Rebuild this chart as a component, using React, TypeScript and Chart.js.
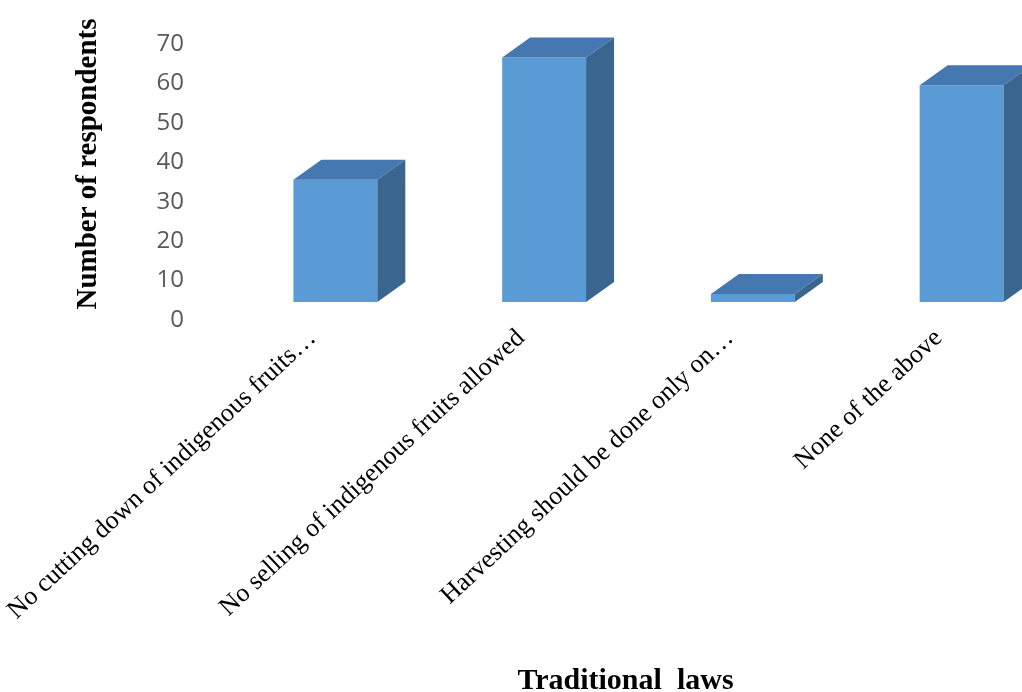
import { useEffect, useRef } from "react";
import { Chart, registerables } from "chart.js";

Chart.register(...registerables);

const categories = [
  "No cutting down of indigenous fruits…",
  "No selling of indigenous fruits allowed",
  "Harvesting should be done only on…",
  "None of the above",
];
const respondents = [31, 62, 2, 55];
const yMin = 0;
const yMax = 70;
const yStep = 10;
const yTitle = "Number of respondents";
const xTitle = "Traditional  laws";

const FRONT = "#5B9BD5";
const TOP = "#4577B0";
const SIDE = "#3A658E";
// columns stand a little behind the axis plane, and have some depth
const RECESS = { x: 23, y: -18 };
const DEPTH = { x: 28, y: -20 };

const SERIF = "'Times New Roman', 'Liberation Serif', serif";

const columns3d = {
  id: "columns3d",
  beforeDatasetsDraw(chart: any) {
    chart.ctx.save();
    chart.ctx.translate(RECESS.x, RECESS.y);
  },
  afterDatasetsDraw(chart: any) {
    const ctx = chart.ctx;
    ctx.restore();
    ctx.save();
    ctx.translate(RECESS.x, RECESS.y);
    chart.getDatasetMeta(0).data.forEach((bar: any) => {
      const { x, y, base, width } = bar.getProps(["x", "y", "base", "width"], true);
      const l = x - width / 2;
      const r = x + width / 2;
      ctx.fillStyle = TOP;
      ctx.beginPath();
      ctx.moveTo(l, y);
      ctx.lineTo(r, y);
      ctx.lineTo(r + DEPTH.x, y + DEPTH.y);
      ctx.lineTo(l + DEPTH.x, y + DEPTH.y);
      ctx.closePath();
      ctx.fill();
      ctx.fillStyle = SIDE;
      ctx.beginPath();
      ctx.moveTo(r, y);
      ctx.lineTo(r + DEPTH.x, y + DEPTH.y);
      ctx.lineTo(r + DEPTH.x, base + DEPTH.y);
      ctx.lineTo(r, base);
      ctx.closePath();
      ctx.fill();
    });
    ctx.restore();
  },
};

const valueAxisTitle = {
  id: "valueAxisTitle",
  afterDraw(chart: any) {
    const { ctx, chartArea } = chart;
    const yScale = chart.scales.y;
    ctx.save();
    ctx.translate(yScale.left + 89, (chartArea.top + chartArea.bottom) / 2 - 18);
    ctx.rotate(-Math.PI / 2);
    ctx.font = `bold 29px ${SERIF}`;
    ctx.fillStyle = "#000";
    ctx.textAlign = "center";
    ctx.textBaseline = "middle";
    ctx.fillText(yTitle, 0, 0);
    ctx.restore();
  },
};

export default function App() {
  const canvasRef = useRef<HTMLCanvasElement>(null);

  useEffect(() => {
    const canvas = canvasRef.current;
    if (!canvas) return;
    const chart = new Chart(canvas, {
      type: "bar",
      data: {
        labels: categories,
        datasets: [
          {
            data: respondents,
            backgroundColor: FRONT,
            borderWidth: 0,
            categoryPercentage: 1,
            barPercentage: 0.402,
            clip: false as any,
          },
        ],
      },
      options: {
        animation: false,
        responsive: false,
        events: [],
        layout: { padding: { top: 44, left: 0, right: 0, bottom: 0 } },
        plugins: {
          legend: { display: false },
          tooltip: { enabled: false },
        },
        scales: {
          x: {
            grid: { display: false, drawTicks: false },
            border: { display: false },
            ticks: {
              autoSkip: false,
              minRotation: 43,
              maxRotation: 43,
              padding: 3,
              color: "#000",
              font: { family: SERIF, size: 26 },
            },
            title: {
              display: true,
              text: xTitle,
              color: "#000",
              font: { family: SERIF, size: 30, weight: "bold", lineHeight: 0.7 },
              padding: { top: 0, bottom: 0 },
            },
            afterFit: (scale: any) => {
              scale.height = 372;
              scale.paddingLeft = 0;
              scale.paddingRight = 0;
            },
          },
          y: {
            min: yMin,
            max: yMax,
            grid: { display: false, drawTicks: false },
            border: { display: false },
            ticks: {
              stepSize: yStep,
              padding: 24,
              color: "#595959",
              font: { family: "'Open Sans', sans-serif", size: 24 },
            },
            afterFit: (scale: any) => {
              scale.width = 208;
            },
          },
        },
      },
      plugins: [columns3d, valueAxisTitle],
    });
    return () => chart.destroy();
  }, []);

  return (
    <div
      style={{
        position: "fixed",
        left: 0,
        top: 0,
        width: 1022,
        height: 692,
        overflow: "hidden",
        background: "#fff",
      }}
    >
      <canvas ref={canvasRef} width={1043} height={692} style={{ display: "block" }} />
    </div>
  );
}
